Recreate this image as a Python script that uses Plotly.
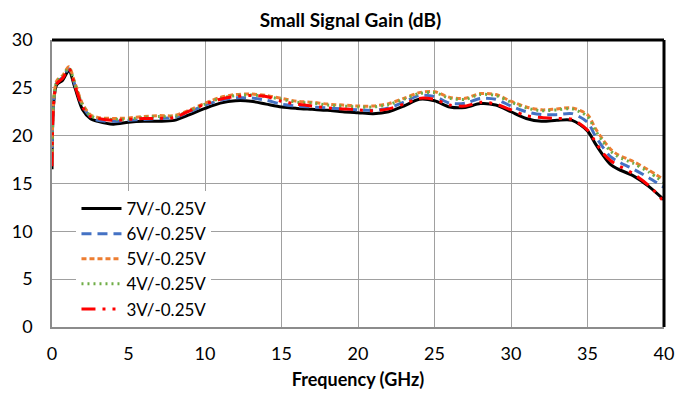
import plotly.graph_objects as go

freq = [0, 0.3, 0.7, 1.1, 1.5, 2, 2.5, 3, 4, 5, 6, 7, 8, 9, 10, 11, 12, 13, 14, 15,
        16, 17, 18, 19, 20, 21, 22, 23, 24, 25, 26, 27, 28, 29, 30, 31, 32, 33, 34,
        35, 35.5, 36, 36.5, 37, 38, 39, 40]

g7v = [16.5, 25.3, 25.8, 26.8, 25.0, 22.7, 21.8, 21.5, 21.2, 21.4, 21.5, 21.5, 21.6,
       22.2, 22.85, 23.4, 23.65, 23.6, 23.3, 23.0, 22.85, 22.75, 22.65, 22.5, 22.4,
       22.3, 22.5, 23.1, 23.8, 23.65, 23.0, 22.95, 23.35, 23.2, 22.5, 21.8, 21.5,
       21.6, 21.6, 20.5, 19.2, 18.0, 17.0, 16.5, 15.8, 14.7, 13.3]

g6v = [17.0, 25.5, 26.1, 27.0, 25.3, 23.1, 22.0, 21.6, 21.5, 21.6, 21.7, 21.8, 21.9,
       22.5, 23.2, 23.7, 23.95, 23.95, 23.7, 23.3, 23.1, 23.0, 22.9, 22.8, 22.7,
       22.65, 22.9, 23.5, 24.2, 24.1, 23.4, 23.4, 23.9, 23.8, 23.1, 22.5, 22.2,
       22.2, 22.3, 21.4, 20.0, 18.8, 17.8, 17.3, 16.5, 15.6, 14.6]

g5v = [17.2, 25.7, 26.3, 27.2, 25.5, 23.3, 22.2, 21.9, 21.8, 21.85, 22.0, 22.1, 22.1,
       22.7, 23.4, 24.0, 24.3, 24.35, 24.2, 23.9, 23.6, 23.5, 23.3, 23.2, 23.1,
       23.1, 23.35, 23.9, 24.5, 24.6, 24.0, 23.9, 24.4, 24.3, 23.6, 23.0, 22.7,
       22.8, 22.9, 22.2, 20.8, 19.6, 18.6, 18.0, 17.3, 16.4, 15.4]

g4v = [17.1, 25.6, 26.2, 27.1, 25.4, 23.2, 22.1, 21.8, 21.7, 21.75, 21.9, 22.0, 22.0,
       22.6, 23.3, 23.9, 24.2, 24.25, 24.1, 23.8, 23.5, 23.4, 23.2, 23.1, 23.0,
       23.0, 23.25, 23.8, 24.4, 24.5, 23.9, 23.8, 24.3, 24.2, 23.5, 22.9, 22.6,
       22.7, 22.8, 22.0, 20.6, 19.4, 18.4, 17.8, 17.1, 16.2, 15.1]

g3v = [16.8, 25.4, 26.0, 27.0, 25.2, 23.0, 22.0, 21.8, 21.6, 21.7, 21.8, 21.8, 21.9,
       22.6, 23.3, 23.8, 24.1, 24.2, 24.1, 23.6, 23.3, 23.1, 22.9, 22.8, 22.7,
       22.6, 22.8, 23.3, 23.9, 23.8, 23.2, 23.1, 23.5, 23.3, 22.7, 22.1, 21.9,
       21.8, 21.7, 20.6, 19.4, 18.2, 17.4, 16.9, 16.0, 14.8, 13.1]

names = ["7V/-0.25V", "6V/-0.25V", "5V/-0.25V", "4V/-0.25V", "3V/-0.25V"]
series = [g7v, g6v, g5v, g4v, g3v]
colors = ["#000000", "#4472C4", "#ED7D31", "#70AD47", "#FF0000"]
dashes = ["solid", "10px,6px", "5px,3px", "2px,4px", "14px,7px,3px,7px,3px,7px"]
widths = [3, 3, 3, 3, 3]

FONT = "Lato, 'Open Sans', sans-serif"

fig = go.Figure()
for n, s, c, d, w in zip(names, series, colors, dashes, widths):
    fig.add_trace(go.Scatter(x=freq, y=s, mode="lines", name=n,
                             line=dict(color=c, dash=d, width=w, shape="spline", smoothing=0.8)))

fig.update_layout(
    width=690, height=401,
    margin=dict(l=52, r=26, t=40, b=74),
    paper_bgcolor="white", plot_bgcolor="white",
    font=dict(family=FONT, size=18, color="#000000"),
    title=dict(text="<b>Small Signal Gain (dB)</b>", x=0.508, xanchor="center",
               y=0.95, yanchor="middle", font=dict(family=FONT, size=19)),
    legend=dict(x=0.04, y=0.0, xanchor="left", yanchor="bottom",
                bgcolor="white", borderwidth=0, font=dict(family=FONT, size=17),
                tracegroupgap=0, itemwidth=40),
    showlegend=True,
)
fig.update_xaxes(range=[0, 40], dtick=5, tick0=0, showgrid=True, gridcolor="#A0A0A0",
                 gridwidth=1.3, showline=True, linecolor="#8C8C8C", linewidth=1.5,
                 zeroline=False, ticks="", ticklabelstandoff=10,
                 title=dict(text="<b>Frequency (GHz)</b>", standoff=10,
                            font=dict(family=FONT, size=18)))
fig.update_yaxes(range=[0, 30], dtick=5, tick0=0, showgrid=True, gridcolor="#A0A0A0",
                 gridwidth=1.3, showline=True, linecolor="#8C8C8C", linewidth=1.5,
                 zeroline=False, ticks="", ticklabelstandoff=14)

fig.add_shape(type="line", xref="paper", yref="paper", x0=0, x1=1, y0=1, y1=1,
              line=dict(color="black", width=3))
fig.add_shape(type="line", xref="paper", yref="paper", x0=1, x1=1, y0=0, y1=1,
              line=dict(color="black", width=3))

fig.write_html("out.html")
